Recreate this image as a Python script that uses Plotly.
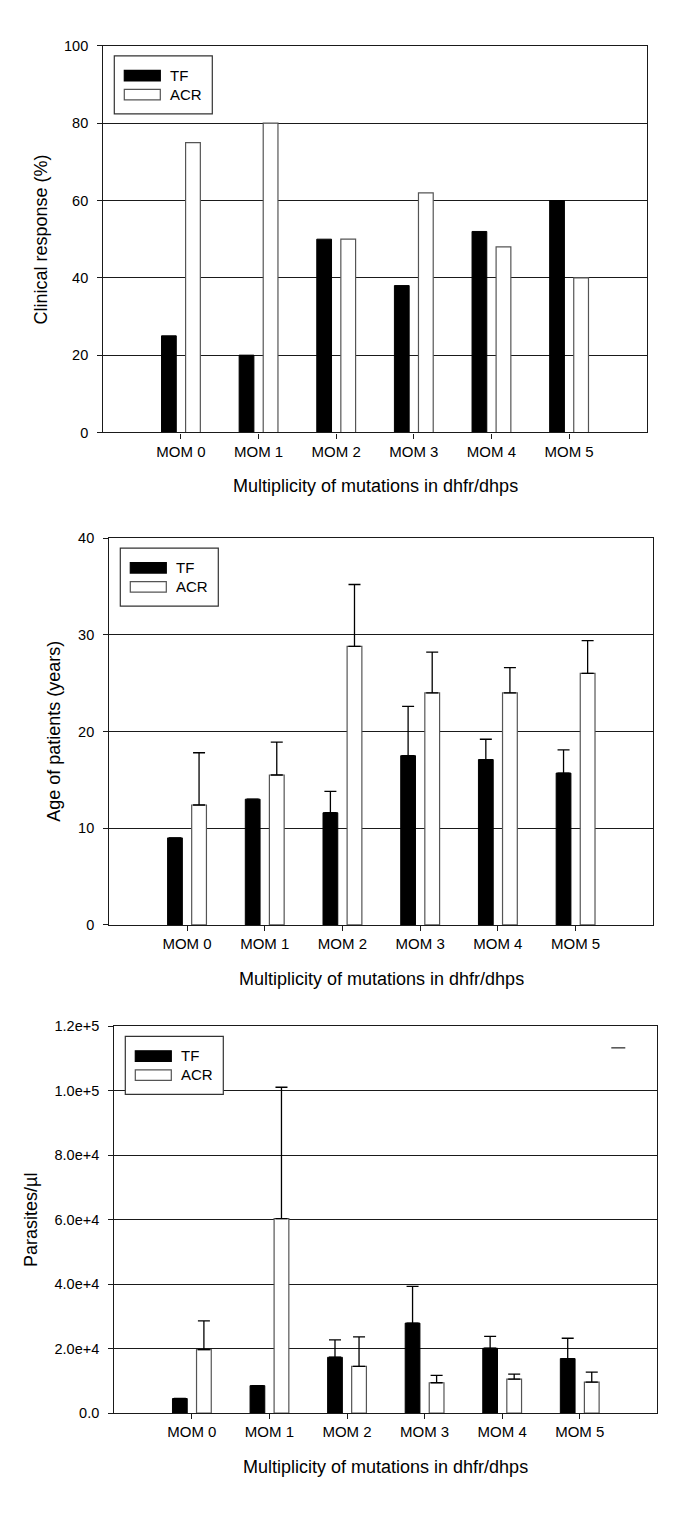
import plotly.graph_objects as go

# ---------------- data ----------------
categories = ["MOM 0", "MOM 1", "MOM 2", "MOM 3", "MOM 4", "MOM 5"]
series_names = ["TF", "ACR"]

resp_tf = [25, 20, 50, 38, 52, 60]
resp_acr = [75, 80, 50, 62, 48, 40]

age_tf = [9.0, 13.0, 11.6, 17.5, 17.1, 15.7]
age_tf_err = [None, None, 2.2, 5.1, 2.1, 2.4]
age_acr = [12.4, 15.5, 28.8, 24.0, 24.0, 26.0]
age_acr_err = [5.4, 3.4, 6.4, 4.2, 2.6, 3.4]

para_tf = [4500, 8500, 17300, 27900, 20100, 16900]
para_tf_err = [None, None, 5400, 11400, 3700, 6300]
para_acr = [19700, 60300, 14500, 9400, 10500, 9600]
para_acr_err = [8900, 40800, 9100, 2300, 1600, 3100]

resp_ticks = [0, 20, 40, 60, 80, 100]
age_ticks = [0, 10, 20, 30, 40]
para_ticks = [0, 20000, 40000, 60000, 80000, 100000, 120000]
para_ticktext = ["0.0", "2.0e+4", "4.0e+4", "6.0e+4", "8.0e+4", "1.0e+5", "1.2e+5"]

x_title = "Multiplicity of mutations in dhfr/dhps"
y_titles = ["Clinical response (%)", "Age of patients (years)", "Parasites/µl"]

# ---------------- layout geometry ----------------
W, H = 685, 1517
FONT = "Liberation Sans, Arial, Helvetica, sans-serif"
# plot boxes in pixels: left, right, top, bottom
boxes = [
    (103.3, 646.7, 38.3, 429.0),
    (109.3, 653.3, 535.7, 926.7),
    (114.3, 657.3, 1029.2, 1420.0),
]
ytitle_shift = [-62, -55, -84]

fig = go.Figure()

panels = [
    (resp_tf, None, resp_acr, None, [0, 100], resp_ticks, [str(v) for v in resp_ticks]),
    (age_tf, age_tf_err, age_acr, age_acr_err, [0, 40], age_ticks, [str(v) for v in age_ticks]),
    (para_tf, para_tf_err, para_acr, para_acr_err, [0, 120000], para_ticks, para_ticktext),
]

LINE = "#1a1a1a"
shapes = []
annotations = []

for i, (tf, tf_err, acr, acr_err, yr, tv, tt) in enumerate(panels):
    n = "" if i == 0 else str(i + 1)
    xref, yref = "x" + n, "y" + n

    def err(arr):
        if arr is None:
            return None
        return dict(type="data", symmetric=False, array=arr,
                    arrayminus=[0] * len(arr), color="black",
                    thickness=1.3, width=6)

    fig.add_trace(go.Bar(
        x=categories, y=tf, name=series_names[0], xaxis=xref, yaxis=yref,
        width=0.19, offset=-0.25,
        marker=dict(color="black", line=dict(color="black", width=1)),
        error_y=err(tf_err), showlegend=False))
    fig.add_trace(go.Bar(
        x=categories, y=acr, name=series_names[1], xaxis=xref, yaxis=yref,
        width=0.19, offset=0.06,
        marker=dict(color="white", line=dict(color="#555555", width=1.2)),
        error_y=err(acr_err), showlegend=False))

    l, r, t, b = boxes[i]
    xd = [l / W, r / W]
    yd = [1 - b / H, 1 - t / H]
    fig.update_layout(**{
        "xaxis" + n: dict(
            domain=xd, anchor=yref, type="category", categoryorder="array",
            categoryarray=categories, range=[-1, 6], showgrid=False,
            showline=True, mirror=True, linecolor=LINE, linewidth=1.3,
            ticks="outside", ticklen=5, tickwidth=1.2, tickcolor=LINE,
            tickfont=dict(family=FONT, size=15, color="black"),
            zeroline=False, fixedrange=True),
        "yaxis" + n: dict(
            domain=yd, anchor=xref, range=yr, tickvals=tv, ticktext=tt,
            showgrid=True, gridcolor=LINE, gridwidth=1.2,
            showline=True, mirror=True, linecolor=LINE, linewidth=1.3,
            ticks="outside", ticklen=5, tickwidth=1.2, tickcolor=LINE,
            ticklabelstandoff=6,
            tickfont=dict(family=FONT, size=14.5, color="black"),
            zeroline=False, fixedrange=True),
    })

    xdom, ydom = xref + " domain", yref + " domain"
    # axis titles
    annotations.append(dict(text=x_title, xref=xdom, yref=ydom, x=0.5, y=0,
                            yshift=-54, xanchor="center", yanchor="middle",
                            showarrow=False,
                            font=dict(family=FONT, size=18, color="black")))
    annotations.append(dict(text=y_titles[i], xref=xdom, yref=ydom, x=0, y=0.5,
                            xshift=ytitle_shift[i], xanchor="center",
                            yanchor="middle", textangle=-90, showarrow=False,
                            font=dict(family=FONT, size=18, color="black")))

    # custom legend box (pixel offsets from the plot's top-left corner)
    def pxrect(x0, x1, y0, y1, fill, line):
        return dict(type="rect", xref=xdom, yref=ydom, xsizemode="pixel",
                    ysizemode="pixel", xanchor=0, yanchor=1,
                    x0=x0, x1=x1, y0=-y0, y1=-y1, fillcolor=fill,
                    line=dict(color=line, width=1.2), layer="above")
    shapes.append(pxrect(11, 109, 10, 68, "white", "#333333"))
    shapes.append(pxrect(21, 57, 24.5, 35, "black", "black"))
    shapes.append(pxrect(21, 57, 43.5, 54, "white", "#555555"))
    for k, yy in enumerate([29.5, 48.5]):
        annotations.append(dict(text=series_names[k], xref=xdom, yref=ydom,
                                x=0, y=1, xshift=65, yshift=-yy,
                                xanchor="left", yanchor="middle",
                                showarrow=False,
                                font=dict(family=FONT, size=15, color="black")))

# stray dash near the top-right of the third panel
shapes.append(dict(type="line", xref="x3 domain", yref="y3 domain",
                   xsizemode="pixel", ysizemode="pixel", xanchor=0, yanchor=1,
                   x0=497, x1=511, y0=-21.5, y1=-21.5,
                   line=dict(color="#333333", width=1.3)))

fig.update_layout(
    width=W, height=H, margin=dict(l=0, r=0, t=0, b=0),
    paper_bgcolor="white", plot_bgcolor="white",
    barmode="overlay", showlegend=False,
    shapes=shapes, annotations=annotations,
    font=dict(family=FONT, color="black"),
)

# remove the browser's default page margin so the figure sits at (0, 0)
reset_css = ("document.documentElement.style.margin='0';"
             "document.documentElement.style.padding='0';"
             "document.body.style.margin='0';"
             "document.body.style.padding='0';"
             "document.body.style.overflow='hidden';")

fig.write_html("out.html", config={"displayModeBar": False},
               post_script=reset_css)
